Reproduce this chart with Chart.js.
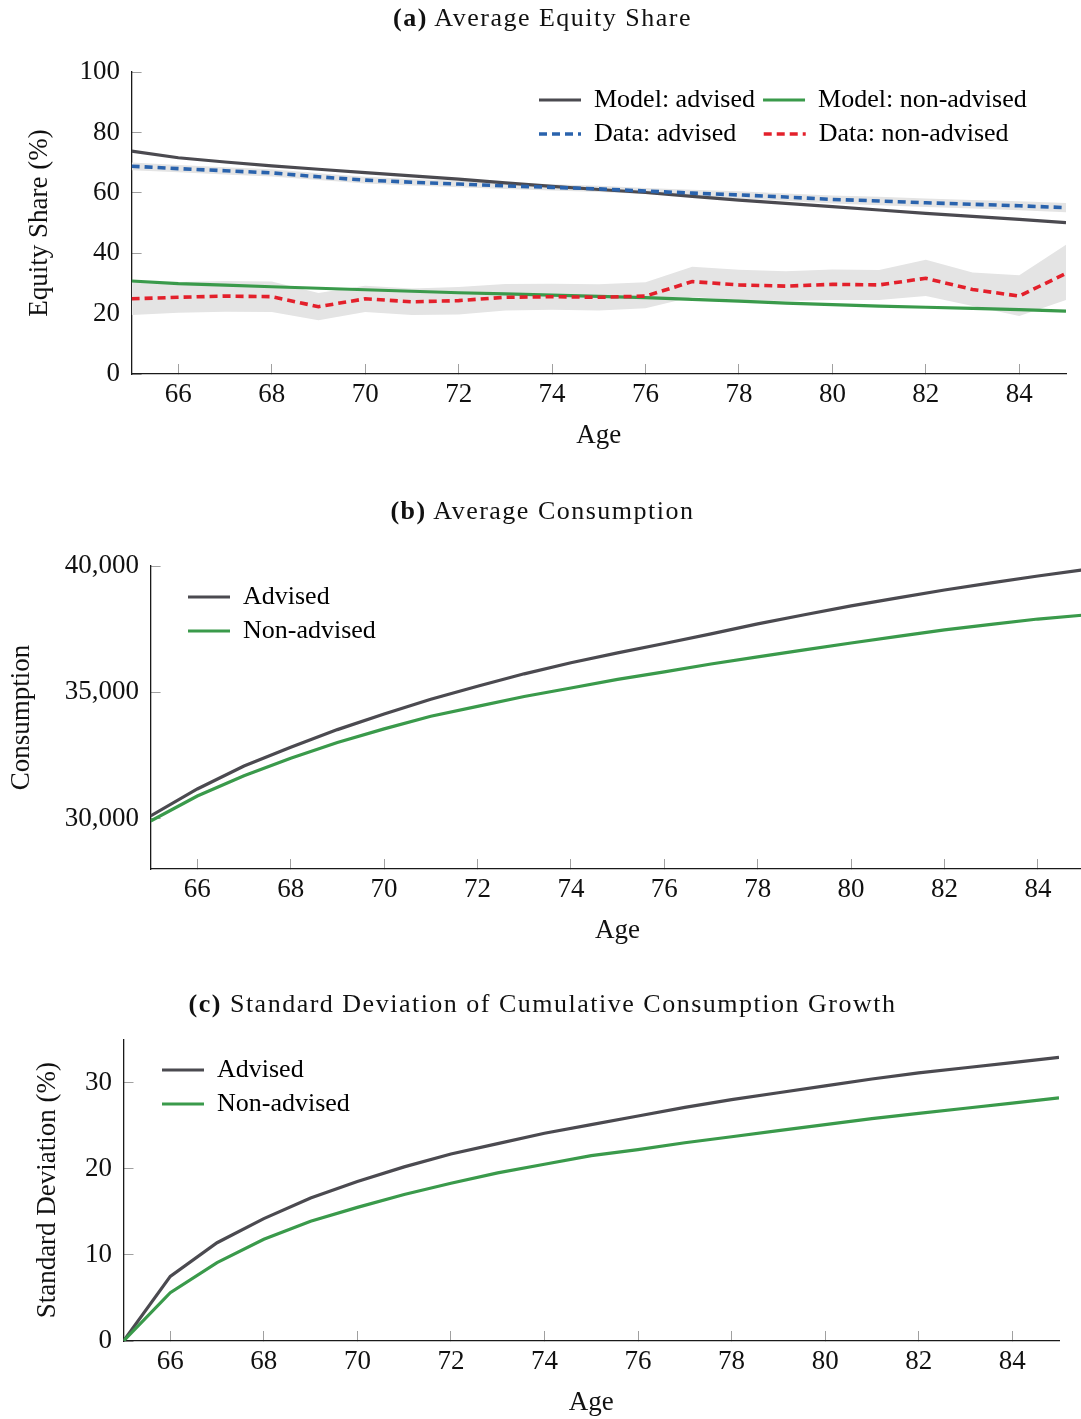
<!DOCTYPE html>
<html>
<head>
<meta charset="utf-8">
<script src="https://cdn.jsdelivr.net/npm/chart.js@4.4.1/dist/chart.umd.min.js"></script>
<style>
  html, body { margin: 0; padding: 0; background: #fff; overflow: hidden; }
  body { width: 1081px; height: 1419px; position: relative; }
  canvas { position: absolute; left: 0; }
  .ttl {
    position: absolute; left: 2px; width: 1081px; text-align: center;
    font-family: 'Liberation Serif', serif; font-size: 26px; line-height: 30px;
    letter-spacing: 1.5px; color: #111; white-space: nowrap;
  }
</style>
</head>
<body>
<canvas id="chartA" width="1081" height="470" style="top:0px"></canvas>
<canvas id="chartB" width="1100" height="490" style="top:470px"></canvas>
<canvas id="chartC" width="1081" height="459" style="top:960px"></canvas>
<div class="ttl" style="top:3px"><b>(a)</b> Average Equity Share</div>
<div class="ttl" style="top:496px"><b>(b)</b> Average Consumption</div>
<div class="ttl" style="top:989px"><b>(c)</b> Standard Deviation of Cumulative Consumption Growth</div>

<script>
// ages on the x axis
const ages = [65, 66, 67, 68, 69, 70, 71, 72, 73, 74, 75, 76, 77, 78, 79, 80, 81, 82, 83, 84, 85];

// tick labels
const ageTicks = [66, 68, 70, 72, 74, 76, 78, 80, 82, 84];
const shareTicks = [0, 20, 40, 60, 80, 100];
const consTicks = [30000, 35000, 40000];
const sdTicks = [0, 10, 20, 30];

// (a) equity share, %
const modelAdvisedShare    = [73.8, 71.6, 70.2, 68.9, 67.8, 66.7, 65.6, 64.5, 63.3, 62.1, 61.1, 60.1, 58.8, 57.6, 56.5, 55.4, 54.3, 53.2, 52.2, 51.2, 50.1];
const modelNonAdvisedShare = [30.8, 29.9, 29.4, 28.9, 28.4, 27.9, 27.4, 26.9, 26.5, 26.1, 25.7, 25.3, 24.7, 24.1, 23.5, 23.0, 22.5, 22.1, 21.7, 21.3, 20.8];
const dataAdvisedShare     = [68.8, 68.0, 67.3, 66.6, 65.3, 64.2, 63.5, 62.9, 62.3, 61.8, 61.3, 60.6, 59.9, 59.3, 58.6, 57.8, 57.3, 56.7, 56.2, 55.7, 55.1];
const dataAdvisedLow       = [67.5, 66.8, 66.1, 65.4, 64.2, 63.1, 62.4, 61.8, 61.3, 60.8, 60.3, 59.6, 58.8, 58.1, 57.4, 56.5, 55.9, 55.3, 54.8, 54.2, 53.6];
const dataAdvisedHigh      = [70.0, 69.2, 68.5, 67.8, 66.5, 65.3, 64.6, 64.0, 63.4, 62.8, 62.3, 61.6, 61.0, 60.5, 59.8, 59.1, 58.7, 58.1, 57.6, 57.2, 56.6];
const dataNonAdvisedShare  = [24.9, 25.4, 25.8, 25.6, 22.3, 24.9, 23.9, 24.3, 25.4, 25.6, 25.4, 25.8, 30.6, 29.5, 29.1, 29.7, 29.5, 31.7, 28.0, 25.8, 33.3];
const dataNonAdvisedLow    = [19.5, 20.3, 20.6, 20.5, 17.8, 20.5, 19.5, 19.7, 21.0, 21.3, 21.0, 21.8, 25.5, 24.5, 24.2, 24.5, 24.5, 25.8, 22.5, 19.2, 24.5];
const dataNonAdvisedHigh   = [30.5, 30.5, 30.8, 30.6, 26.8, 29.2, 28.3, 28.8, 29.8, 29.9, 29.7, 30.4, 35.5, 34.5, 34.0, 34.6, 34.4, 37.8, 33.6, 32.7, 42.8];

// (b) average consumption
const consAdvised    = [30100, 31170, 32080, 32820, 33520, 34140, 34720, 35240, 35730, 36170, 36560, 36930, 37310, 37710, 38070, 38420, 38740, 39050, 39330, 39605, 39860];
const consNonAdvised = [29900, 30890, 31690, 32390, 33010, 33550, 34050, 34440, 34830, 35170, 35510, 35810, 36120, 36400, 36680, 36950, 37210, 37470, 37690, 37900, 38060];

// (c) std dev of cumulative consumption growth, %
const sdAdvised    = [0, 7.5, 11.4, 14.2, 16.6, 18.5, 20.2, 21.7, 22.9, 24.1, 25.1, 26.1, 27.1, 28.0, 28.8, 29.6, 30.4, 31.1, 31.7, 32.3, 32.9];
const sdNonAdvised = [0, 5.6, 9.1, 11.8, 13.9, 15.5, 17.0, 18.3, 19.5, 20.5, 21.5, 22.2, 23.0, 23.7, 24.4, 25.1, 25.8, 26.4, 27.0, 27.6, 28.2];

const GRAY = '#4b4a50';
const GREEN = '#3a9a4b';
const BLUE = '#2a63ad';
const RED = '#e3202b';
const BAND = '#e4e4e4';

Chart.defaults.font.family = "'Liberation Serif', 'Times New Roman', serif";
Chart.defaults.color = '#111';

const pts = (vals) => vals.map((v, i) => ({ x: ages[i], y: v }));

function line(label, vals, color, dash, width, order) {
  return {
    label: label, data: pts(vals), borderColor: color, backgroundColor: color,
    borderWidth: width, borderDash: dash, pointRadius: 0, fill: false, order: order
  };
}

function band(vals, fill) {
  return {
    label: '', data: pts(vals), borderWidth: 0, borderColor: 'rgba(0,0,0,0)',
    backgroundColor: BAND, pointRadius: 0, fill: fill, order: 5
  };
}

// legend sits inside the plot: keep it out of the layout, then put it where we want
function placeLegend(left, top, right) {
  return {
    id: 'placeLegend',
    afterLayout(chart) {
      const lg = chart.legend;
      lg.left = left; lg.top = top; lg.right = right; lg.bottom = top + 100;
      lg.width = right - left; lg.height = 100;
    }
  };
}

function legendOpts(count) {
  return {
    position: 'top', align: 'start', maxHeight: 0.01,
    labels: {
      usePointStyle: true, pointStyleWidth: 42, padding: 8,
      font: { size: 26 }, color: '#111',
      generateLabels: (chart) => chart.data.datasets.slice(0, count).map((ds, i) => ({
        text: ds.label, strokeStyle: ds.borderColor, fillStyle: ds.borderColor,
        lineWidth: ds.borderWidth, lineDash: ds.borderDash || [], pointStyle: 'line',
        datasetIndex: i, hidden: false
      }))
    }
  };
}

function axisCommon() {
  return {
    border: { color: '#1a1a1a', width: 1.3 },
    grid: { drawOnChartArea: false, drawTicks: true, tickLength: -10, color: '#a0a0a0', lineWidth: 1 }
  };
}

function xAxis() {
  return Object.assign(axisCommon(), {
    type: 'linear', min: 65, max: 85,
    afterFit: (s) => { s.height = 78; },
    afterBuildTicks: (s) => { s.ticks = ageTicks.map((v) => ({ value: v })); },
    ticks: { padding: 14.8, font: { size: 27 }, maxRotation: 0, autoSkip: false },
    title: { display: true, text: 'Age', font: { size: 27 }, padding: { top: 0, bottom: 0 } }
  });
}

function yAxis(min, max, tickVals, width, title, titlePad, fmt) {
  return Object.assign(axisCommon(), {
    min: min, max: max,
    afterFit: (s) => { s.width = width; },
    afterBuildTicks: (s) => { s.ticks = tickVals.map((v) => ({ value: v })); },
    ticks: { padding: 21.6, font: { size: 27 }, autoSkip: false, callback: fmt },
    title: { display: true, text: title, font: { size: 27 }, padding: { top: titlePad, bottom: 0 } }
  });
}

const plain = (v) => String(v);
const thousands = (v) => v.toLocaleString('en-US');

// (a)
new Chart(document.getElementById('chartA'), {
  type: 'line',
  data: {
    datasets: [
      line('Model: advised', modelAdvisedShare, GRAY, [], 3.2, 1),
      line('Model: non-advised', modelNonAdvisedShare, GREEN, [], 3.2, 1),
      line('Data: advised   ', dataAdvisedShare, BLUE, [8, 5], 3.6, 0),
      line('Data: non-advised', dataNonAdvisedShare, RED, [8, 5], 3.6, 0),
      band(dataAdvisedLow, false),
      band(dataAdvisedHigh, '-1'),
      band(dataNonAdvisedLow, false),
      band(dataNonAdvisedHigh, '-1')
    ]
  },
  options: {
    responsive: false, animation: false, devicePixelRatio: 1,
    layout: { padding: { left: 0, top: 72, right: 15, bottom: 18 } },
    scales: {
      x: xAxis(),
      y: yAxis(0, 100, shareTicks, 131.6, 'Equity Share (%)', 23.8, plain)
    },
    plugins: { legend: legendOpts(4), tooltip: { enabled: false } }
  },
  plugins: [placeLegend(531, 79, 1076)]
});

// (b)
new Chart(document.getElementById('chartB'), {
  type: 'line',
  data: {
    datasets: [
      line('Advised', consAdvised, GRAY, [], 3.2, 1),
      line('Non-advised', consNonAdvised, GREEN, [], 3.2, 0)
    ]
  },
  options: {
    responsive: false, animation: false, devicePixelRatio: 1,
    layout: { padding: { left: 0, top: 96, right: 15.4, bottom: 13 } },
    scales: {
      x: xAxis(),
      y: yAxis(28000, 40000, consTicks, 150.6, 'Consumption', 5.8, thousands)
    },
    plugins: { legend: legendOpts(2), tooltip: { enabled: false } }
  },
  plugins: [placeLegend(180, 106, 400)]
});

// (c)
new Chart(document.getElementById('chartC'), {
  type: 'line',
  data: {
    datasets: [
      line('Advised', sdAdvised, GRAY, [], 3.2, 1),
      line('Non-advised', sdNonAdvised, GREEN, [], 3.2, 0)
    ]
  },
  options: {
    responsive: false, animation: false, devicePixelRatio: 1,
    layout: { padding: { left: 0, top: 79.3, right: 22, bottom: 0 } },
    scales: {
      x: xAxis(),
      y: yAxis(0, 35, sdTicks, 123.5, 'Standard Deviation (%)', 31.3, plain)
    },
    plugins: { legend: legendOpts(2), tooltip: { enabled: false } }
  },
  plugins: [placeLegend(154, 89, 380)]
});
</script>
</body>
</html>
